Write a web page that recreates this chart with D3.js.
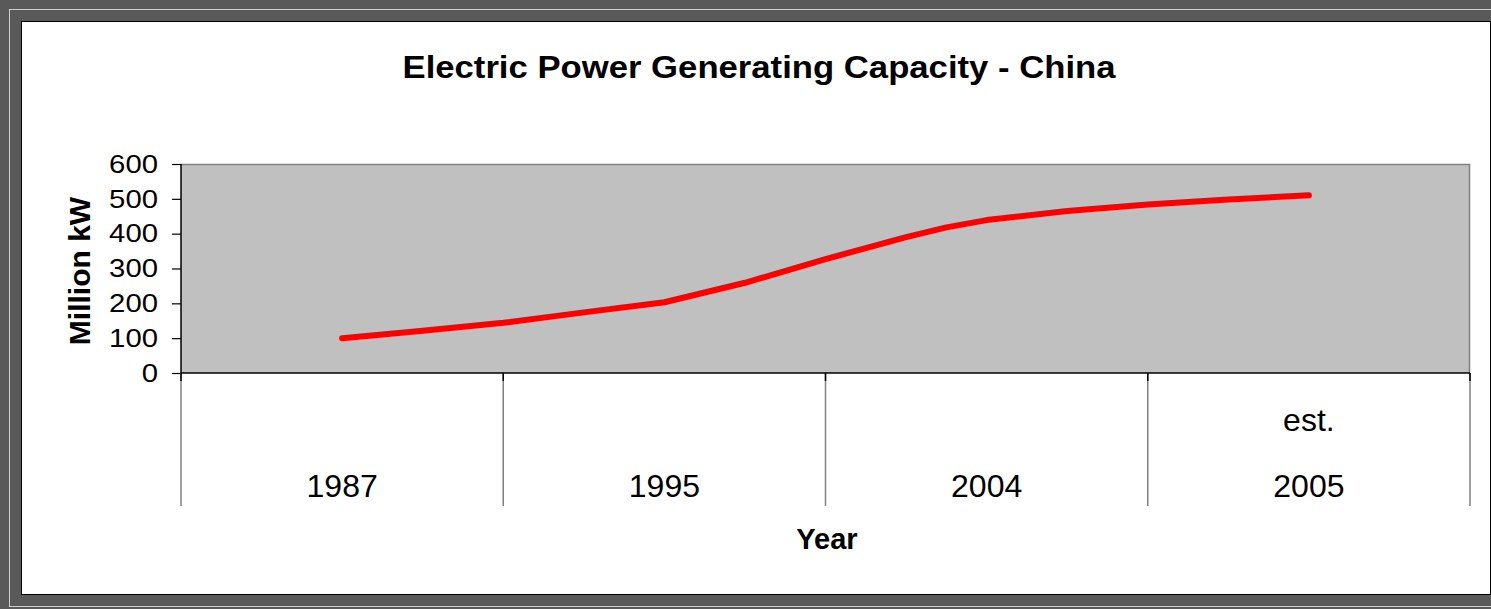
<!DOCTYPE html>
<html>
<head>
<meta charset="utf-8">
<script src="https://cdn.jsdelivr.net/npm/d3@7"></script>
<style>
  html, body { margin: 0; padding: 0; background: #595959; }
  svg { display: block; font-family: "Liberation Sans", Arial, sans-serif; }
</style>
</head>
<body>
<svg id="chart" width="1491" height="609"></svg>
<script>
// Category labels (two-level: upper note, lower year)
const categories = ["1987", "1995", "2004", "2005"];
const categoryNotes = ["", "", "", "est."];
// Capacity curve: position in category units and value (million kW)
const positions = [0, 0.25, 0.5, 0.75, 1, 1.25, 1.5, 1.75, 1.875, 2, 2.25, 2.5, 2.75, 3];
const capacity = [100, 121, 144, 174, 203, 259, 327, 390, 418, 439, 465, 484, 498, 510];
const yTicks = [0, 100, 200, 300, 400, 500, 600];

const svg = d3.select("#chart");

// frame
svg.append("rect").attr("x", 0).attr("y", 0).attr("width", 1491).attr("height", 609).attr("fill", "#595959");
svg.append("rect").attr("x", 9.5).attr("y", 9.5).attr("width", 1500).attr("height", 597)
  .attr("fill", "none").attr("stroke", "#d0d0d0").attr("stroke-width", 1);
svg.append("rect").attr("x", 21.5).attr("y", 21.5).attr("width", 1469).attr("height", 573)
  .attr("fill", "#ffffff").attr("stroke", "#000000").attr("stroke-width", 1);

const plot = { left: 181, right: 1470, top: 164, bottom: 373 };

const x = d3.scaleLinear().domain([-0.5, 3.5]).range([plot.left, plot.right]);
const y = d3.scaleLinear().domain([0, 600]).range([plot.bottom, plot.top]);

// plot area
svg.append("rect")
  .attr("x", plot.left).attr("y", plot.top)
  .attr("width", plot.right - plot.left).attr("height", plot.bottom - plot.top)
  .attr("fill", "#c0c0c0");
svg.append("path")
  .attr("d", `M${plot.left},${plot.top + 0.5}H${plot.right - 0.5}V${plot.bottom}`)
  .attr("fill", "none").attr("stroke", "#808080").attr("stroke-width", 1.5);

// y axis
const yAxis = d3.axisLeft(y).tickValues(yTicks).tickSize(9).tickPadding(14).tickFormat(d3.format("d"));
const yg = svg.append("g").attr("transform", `translate(${plot.left},0)`).call(yAxis);
yg.select(".domain").attr("stroke", "#000").attr("stroke-width", 1.5).attr("d", `M0,${plot.top}V${plot.bottom}`);
yg.selectAll(".tick line").attr("stroke", "#000").attr("stroke-width", 1.2);
yg.selectAll(".tick text").attr("font-size", 26).attr("fill", "#000")
  .attr("font-family", "Liberation Sans, Arial, sans-serif")
  .attr("textLength", d => String(d).length * 16.3)
  .attr("lengthAdjust", "spacingAndGlyphs");

// category separators
const bounds = d3.range(categories.length + 1).map(i => i - 0.5);
svg.append("g").selectAll("line.sep").data(bounds).join("line")
  .attr("x1", d => x(d)).attr("x2", d => x(d))
  .attr("y1", plot.bottom).attr("y2", 506)
  .attr("stroke", "#808080").attr("stroke-width", 1.5);
svg.append("g").selectAll("line.tick").data(bounds).join("line")
  .attr("x1", d => x(d)).attr("x2", d => x(d))
  .attr("y1", plot.bottom).attr("y2", plot.bottom + 8)
  .attr("stroke", "#000").attr("stroke-width", 1.5);
svg.append("line")
  .attr("x1", plot.left).attr("x2", plot.right)
  .attr("y1", plot.bottom).attr("y2", plot.bottom)
  .attr("stroke", "#000").attr("stroke-width", 1.5);

// category labels
svg.append("g").selectAll("text").data(categories).join("text")
  .attr("x", (d, i) => x(i)).attr("y", 497)
  .attr("text-anchor", "middle").attr("font-size", 32).attr("fill", "#000")
  .text(d => d);
svg.append("g").selectAll("text").data(categoryNotes).join("text")
  .attr("x", (d, i) => x(i)).attr("y", 431)
  .attr("text-anchor", "middle").attr("font-size", 32).attr("fill", "#000")
  .text(d => d);

// line
const line = d3.line().x((d, i) => x(positions[i])).y(d => y(d));
svg.append("path").datum(capacity)
  .attr("d", line)
  .attr("fill", "none").attr("stroke", "#ff0000").attr("stroke-width", 6)
  .attr("stroke-linecap", "round").attr("stroke-linejoin", "round");

// titles
svg.append("text").attr("x", 759).attr("y", 78)
  .attr("text-anchor", "middle").attr("font-size", 31).attr("font-weight", "bold")
  .attr("textLength", 713).attr("lengthAdjust", "spacingAndGlyphs")
  .text("Electric Power Generating Capacity - China");
svg.append("text").attr("x", 827).attr("y", 549)
  .attr("text-anchor", "middle").attr("font-size", 29).attr("font-weight", "bold")
  .text("Year");
svg.append("text")
  .attr("transform", `translate(90,271) rotate(-90)`)
  .attr("text-anchor", "middle").attr("font-size", 30).attr("font-weight", "bold")
  .text("Million kW");
</script>
</body>
</html>
